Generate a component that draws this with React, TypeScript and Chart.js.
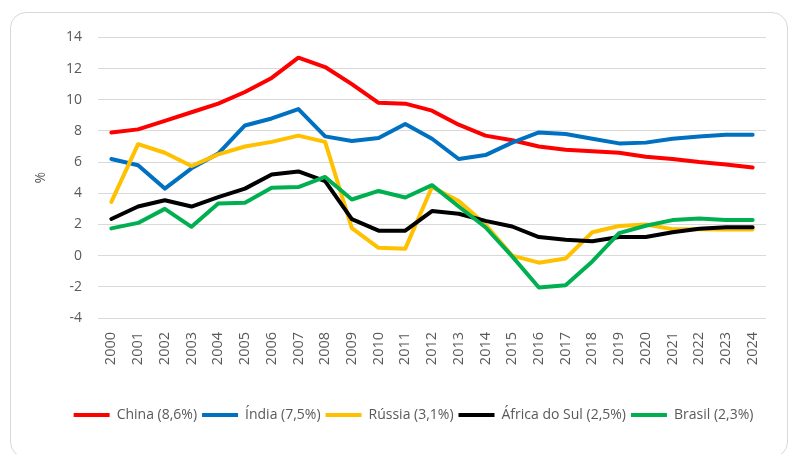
import { useEffect, useRef } from 'react';
import { Chart, registerables } from 'chart.js';

Chart.register(...registerables);

const years = [
  '2000', '2001', '2002', '2003', '2004', '2005', '2006', '2007', '2008', '2009',
  '2010', '2011', '2012', '2013', '2014', '2015', '2016', '2017', '2018', '2019',
  '2020', '2021', '2022', '2023', '2024',
];

const china = [7.9, 8.1, 8.65, 9.2, 9.75, 10.5, 11.4, 12.7, 12.1, 11.0, 9.8, 9.75, 9.3, 8.4, 7.7, 7.4, 7.0, 6.8, 6.7, 6.6, 6.35, 6.2, 6.0, 5.85, 5.65];
const india = [6.2, 5.8, 4.3, 5.6, 6.55, 8.35, 8.8, 9.4, 7.65, 7.35, 7.55, 8.45, 7.5, 6.2, 6.45, 7.25, 7.9, 7.8, 7.5, 7.2, 7.25, 7.5, 7.65, 7.75, 7.75];
const russia = [3.45, 7.15, 6.6, 5.75, 6.5, 7.0, 7.3, 7.7, 7.3, 1.77, 0.5, 0.45, 4.4, 3.5, 2.0, 0.0, -0.45, -0.18, 1.5, 1.9, 2.0, 1.7, 1.7, 1.67, 1.67];
const southAfrica = [2.35, 3.15, 3.55, 3.15, 3.75, 4.3, 5.2, 5.4, 4.78, 2.34, 1.6, 1.6, 2.86, 2.69, 2.23, 1.87, 1.19, 1.02, 0.92, 1.2, 1.2, 1.5, 1.72, 1.82, 1.82];
const brazil = [1.75, 2.1, 3.0, 1.85, 3.35, 3.4, 4.35, 4.4, 5.05, 3.6, 4.15, 3.73, 4.52, 3.15, 1.82, -0.05, -2.04, -1.9, -0.37, 1.44, 1.92, 2.28, 2.38, 2.28, 2.28];

const seriesLabels = ['China (8,6%)', 'Índia (7,5%)', 'Rússia (3,1%)', 'África do Sul (2,5%)', 'Brasil (2,3%)'];

const yMin = -4;
const yMax = 14;
const yStep = 2;

const FONT = "'Open Sans', 'Liberation Sans', sans-serif";
const TEXT = '#595959';
const LEGEND_DX = 25;

const legendShift = {
  id: 'legendShift',
  afterLayout(chart: any) {
    const l = chart.legend;
    if (l) {
      l.left += LEGEND_DX;
      l.right += LEGEND_DX;
    }
  },
};

export default function App() {
  const ref = useRef<HTMLCanvasElement | null>(null);

  useEffect(() => {
    if (!ref.current) return;
    const colors = ['#FF0000', '#0070C0', '#FFC000', '#000000', '#00B050'];
    const series = [china, india, russia, southAfrica, brazil];
    const chart = new Chart(ref.current, {
      type: 'line',
      data: {
        labels: years,
        datasets: series.map((d, i) => ({
          label: seriesLabels[i],
          data: d,
          borderColor: colors[i],
          backgroundColor: colors[i],
          borderWidth: 4,
          pointRadius: 0,
          pointHoverRadius: 0,
          tension: 0,
          fill: false,
          borderJoinStyle: 'round' as const,
          borderCapStyle: 'round' as const,
          order: series.length - 1 - i,
        })),
      },
      options: {
        animation: false,
        responsive: true,
        maintainAspectRatio: false,
        layout: { padding: { left: 0, right: 21, top: 20, bottom: 25 } },
        plugins: {
          tooltip: { enabled: false },
          legend: {
            position: 'bottom',
            labels: {
              boxWidth: 36,
              boxHeight: 4,
              padding: 5,
              color: TEXT,
              font: { family: FONT, size: 14 },
              sort: (a: any, b: any) => a.datasetIndex - b.datasetIndex,
              generateLabels: (c: any) =>
                Chart.defaults.plugins.legend.labels
                  .generateLabels(c)
                  .map((it: any) => ({ ...it, lineWidth: 0 })),
            },
          },
        },
        scales: {
          x: {
            offset: true,
            grid: { display: false, drawTicks: false },
            border: { display: false },
            ticks: {
              autoSkip: false,
              minRotation: 90,
              maxRotation: 90,
              padding: 14,
              color: TEXT,
              font: { family: FONT, size: 14.5 },
            },
            afterFit: (s: any) => {
              s.height = 85;
            },
          },
          y: {
            min: yMin,
            max: yMax,
            ticks: {
              stepSize: yStep,
              padding: 16,
              color: TEXT,
              font: { family: FONT, size: 14 },
            },
            grid: { color: '#d9d9d9', lineWidth: 1, drawTicks: false },
            border: { display: false },
            title: {
              display: true,
              text: '%',
              color: TEXT,
              font: { family: FONT, size: 14 },
              padding: { top: 22, bottom: 0 },
            },
            afterFit: (s: any) => {
              s.width = 87;
            },
          },
        },
      },
      plugins: [legendShift],
    });
    return () => chart.destroy();
  }, []);

  return (
    <div
      style={{
        position: 'relative',
        left: 2,
        top: 4,
        width: 778,
        height: 446,
        border: '1px solid #d9d9d9',
        borderRadius: 16,
        boxSizing: 'border-box',
        background: '#fff',
      }}
    >
      <div style={{ position: 'relative', width: 776, height: 444 }}>
        <canvas ref={ref} />
      </div>
    </div>
  );
}
